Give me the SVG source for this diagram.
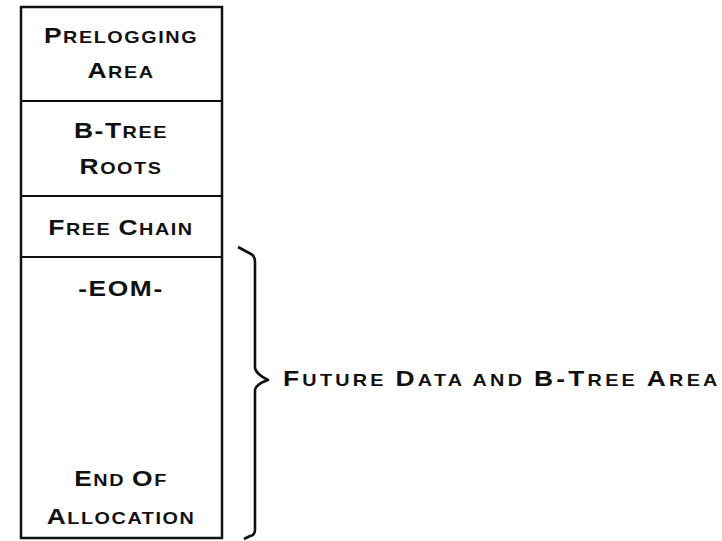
<svg xmlns="http://www.w3.org/2000/svg" width="722" height="541" viewBox="0 0 722 541">
<style>
.t{font-family:"Liberation Sans","DejaVu Sans",sans-serif;font-size:22px;fill:#111;text-anchor:middle;letter-spacing:1.3px;font-weight:bold}
.s{font-size:16.5px}
.box{fill:none;stroke:#111;stroke-width:2.5}
.div{stroke:#111;stroke-width:1.8}
</style>
<rect width="722" height="541" fill="#fff"/>
<g id="memory">
<rect class="box" x="21" y="7" width="201" height="531"/>
</g>
<g id="connectors">
<line class="div" x1="21" y1="101" x2="222" y2="101"/>
<line class="div" x1="21" y1="196" x2="222" y2="196"/>
<line class="div" x1="21" y1="257" x2="222" y2="257"/>
<path d="M238 247 L251 254 Q255 256 255 262 L255 368 Q256 374 268 380 Q256 384 255 390 L255 530 Q255 535 250 536 L244 539" fill="none" stroke="#111" stroke-width="2.6" stroke-linejoin="round"/>
</g>
<g id="prelogging" transform="translate(121,0) scale(1.2,1)">
<text class="t" x="0" y="43">P<tspan class="s">RELOGGING</tspan></text>
<text class="t" x="0" y="78">A<tspan class="s">REA</tspan></text>
</g>
<g id="btree-roots" transform="translate(121,0) scale(1.2,1)">
<text class="t" x="0" y="138">B-T<tspan class="s">REE</tspan></text>
<text class="t" x="0" y="174">R<tspan class="s">OOTS</tspan></text>
</g>
<g id="free-chain" transform="translate(121,0) scale(1.2,1)">
<text class="t" x="0" y="235">F<tspan class="s">REE </tspan>C<tspan class="s">HAIN</tspan></text>
</g>
<g id="eom" transform="translate(121,0) scale(1.2,1)">
<text class="t" x="0" y="296">-EOM-</text>
<text class="t" x="0" y="486">E<tspan class="s">ND </tspan>O<tspan class="s">F</tspan></text>
<text class="t" x="0" y="524">A<tspan class="s">LLOCATION</tspan></text>
</g>
<g id="future-label" transform="translate(283,0) scale(1.2,1)">
<text class="t" x="0" y="386" style="text-anchor:start;letter-spacing:0" textLength="362" lengthAdjust="spacing">F<tspan class="s">UTURE </tspan>D<tspan class="s">ATA AND </tspan>B-T<tspan class="s">REE </tspan>A<tspan class="s">REA</tspan></text>
</g>
</svg>
